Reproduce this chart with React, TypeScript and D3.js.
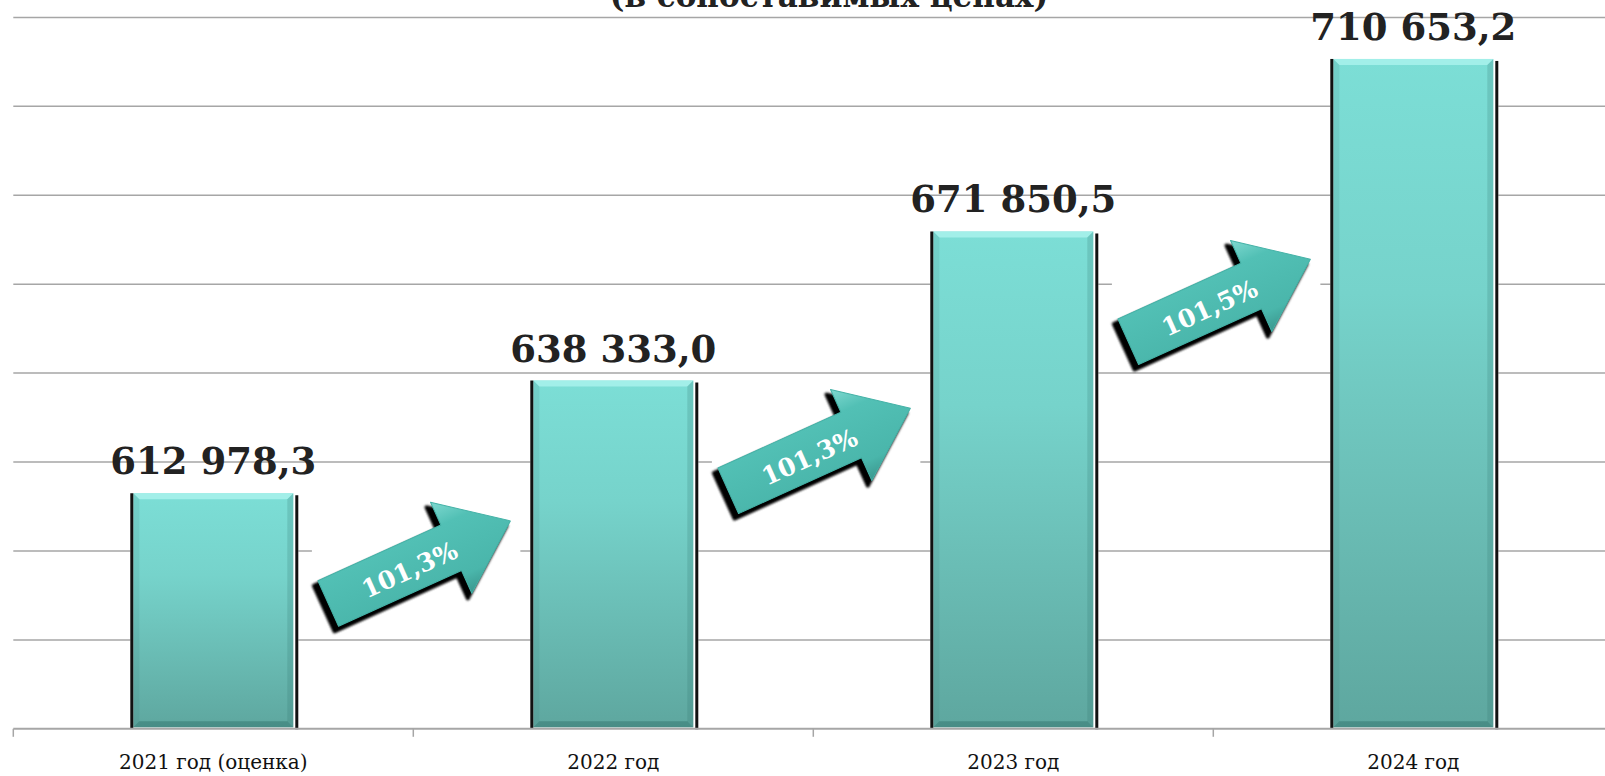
import React from "react";
import * as d3 from "d3";

const categories = ["2021 год (оценка)", "2022 год", "2023 год", "2024 год"];
const values = [612978.3, 638333.0, 671850.5, 710653.2];
const growth = [101.3, 101.3, 101.5];
const subtitle = "(в сопоставимых ценах)";

const width = 1605;
const height = 776;

const ru = d3.formatLocale({
  decimal: ",",
  thousands: " ",
  grouping: [3],
  currency: ["", ""],
});
const fmtValue = ru.format(",.1f");
const fmtPct = (v: number) => ru.format(".1f")(v) + "%";

// arrow outline, centred on its middle, pointing along +x
const arrowPts: [number, number][] = [
  [-100, -25],
  [35, -25],
  [35, -50],
  [100, 0],
  [35, 50],
  [35, 25],
  [-100, 25],
];
const arrowPath = d3.line()(arrowPts) + "Z";
const arrowAngle = -24.4;

// axis-aligned box of the rotated arrow (the picture had a white background)
const rad = (arrowAngle * Math.PI) / 180;
const rotPts = arrowPts.map(([a, b]) => [
  a * Math.cos(rad) - b * Math.sin(rad),
  a * Math.sin(rad) + b * Math.cos(rad),
]);
const [bx0, bx1] = d3.extent(rotPts, (p) => p[0]) as [number, number];
const [by0, by1] = d3.extent(rotPts, (p) => p[1]) as [number, number];

function Bar({ x0, x1, yTop, yBot }: { x0: number; x1: number; yTop: number; yBot: number }) {
  const b = 6;
  return (
    <g>
      <rect x={x0 - 3} y={yTop} width={x1 - x0 + 8} height={yBot - yTop} fill="#fff" />
      <rect x={x0} y={yTop} width={x1 - x0} height={yBot - yTop} fill="url(#barGrad)" />
      <polygon
        points={`${x0},${yTop} ${x1},${yTop} ${x1 - b},${yTop + b} ${x0 + b},${yTop + b}`}
        fill="#a9f2ec"
        opacity={0.85}
      />
      <polygon
        points={`${x0},${yTop} ${x0 + b},${yTop + b} ${x0 + b},${yBot - b} ${x0},${yBot}`}
        fill="#2f6f69"
        opacity={0.12}
      />
      <polygon
        points={`${x1},${yTop} ${x1 - b},${yTop + b} ${x1 - b},${yBot - b} ${x1},${yBot}`}
        fill="#2f6f69"
        opacity={0.2}
      />
      <polygon
        points={`${x0},${yBot} ${x1},${yBot} ${x1 - b},${yBot - b} ${x0 + b},${yBot - b}`}
        fill="#2f6f69"
        opacity={0.45}
      />
      <rect x={x0 - 3} y={yTop} width={3} height={yBot - yTop + 1.5} fill="#111" />
      <rect x={x1 + 2} y={yTop + 2} width={3} height={yBot - yTop} fill="#111" />
    </g>
  );
}

export default function App() {
  const x = d3.scaleBand().domain(categories).range([13.3, 1613.3]);
  const y = d3.scaleLinear().domain([560000, 720000]).range([728.8, 17.4]);
  const bw = x.bandwidth();
  const grid = y.ticks(8).filter((t) => t > y.domain()[0]);
  const baseY = y(y.domain()[0]);

  const arrowCenters = growth.map((g, i) => ({
    g,
    cx: (x(categories[i + 1]) as number) + 6,
    cy: y(values[i]) + 69,
  }));

  return (
    <svg
      width={width}
      height={height}
      style={{ position: "absolute", left: 0, top: 0, background: "#fff" }}
      fontFamily="'DejaVu Serif', serif"
    >
      <defs>
        <linearGradient id="barGrad" x1="0" y1="0" x2="0" y2="1">
          <stop offset="0" stopColor="#7cded6" />
          <stop offset="0.35" stopColor="#76d3cb" />
          <stop offset="1" stopColor="#5ea79f" />
        </linearGradient>
        <linearGradient id="arrowGrad" gradientUnits="userSpaceOnUse" x1="0" y1="-50" x2="0" y2="50">
          <stop offset="0" stopColor="#7fd9d0" />
          <stop offset="0.25" stopColor="#52c0b5" />
          <stop offset="0.8" stopColor="#4ab6ab" />
          <stop offset="1" stopColor="#3a978e" />
        </linearGradient>
        <filter id="soft" x="-20%" y="-20%" width="140%" height="140%">
          <feGaussianBlur stdDeviation="1" />
        </filter>
      </defs>

      <text x={829} y={7} textAnchor="middle" fontWeight="bold" fontSize={31} fill="#222">
        {subtitle}
      </text>

      <g className="grid">
        {grid.map((t) => (
          <line key={t} x1={13.3} x2={width} y1={y(t)} y2={y(t)} stroke="#a6a6a6" strokeWidth={1.5} />
        ))}
      </g>

      <g className="arrowBacks">
        {arrowCenters.map((a, i) => (
          <rect
            key={i}
            x={a.cx + bx0 - 6}
            y={a.cy + by0 - 5}
            width={bx1 - bx0 + 16}
            height={by1 - by0 + 12}
            fill="#fff"
          />
        ))}
      </g>

      <g className="bars">
        {categories.map((c, i) => {
          const x0 = (x(c) as number) + bw * 0.3;
          return <Bar key={c} x0={x0} x1={x0 + bw * 0.4} yTop={y(values[i])} yBot={baseY - 1.5} />;
        })}
      </g>

      <g className="axis">
        <line x1={13.3} x2={width} y1={baseY} y2={baseY} stroke="#a6a6a6" strokeWidth={2} />
        {categories.map((c) => (
          <line
            key={c}
            x1={x(c) as number}
            x2={x(c) as number}
            y1={baseY}
            y2={baseY + 8}
            stroke="#a6a6a6"
            strokeWidth={1.5}
          />
        ))}
        {categories.map((c) => (
          <text key={c} x={(x(c) as number) + bw / 2} y={769} textAnchor="middle" fontSize={20} fill="#111">
            {c}
          </text>
        ))}
      </g>

      <g className="labels">
        {categories.map((c, i) => (
          <text
            key={c}
            x={(x(c) as number) + bw / 2}
            y={y(values[i]) - 19}
            textAnchor="middle"
            fontWeight="bold"
            fontSize={37}
            fill="#222"
          >
            {fmtValue(values[i])}
          </text>
        ))}
      </g>

      <g className="arrows">
        {arrowCenters.map((a, i) => (
          <g key={i} transform={`translate(${a.cx},${a.cy})`}>
            <g transform={`translate(-4,5) rotate(${arrowAngle})`} filter="url(#soft)">
              <path d={arrowPath} fill="#000" stroke="#000" strokeWidth={4} strokeLinejoin="round" />
            </g>
            <g transform={`rotate(${arrowAngle})`}>
              <path d={arrowPath} fill="url(#arrowGrad)" stroke="#45b2a7" strokeWidth={1} strokeLinejoin="round" />
              <text
                x={-12}
                y={3}
                textAnchor="middle"
                dominantBaseline="central"
                fontWeight="bold"
                fontSize={25}
                fill="#fff"
              >
                {fmtPct(a.g)}
              </text>
            </g>
          </g>
        ))}
      </g>
    </svg>
  );
}
